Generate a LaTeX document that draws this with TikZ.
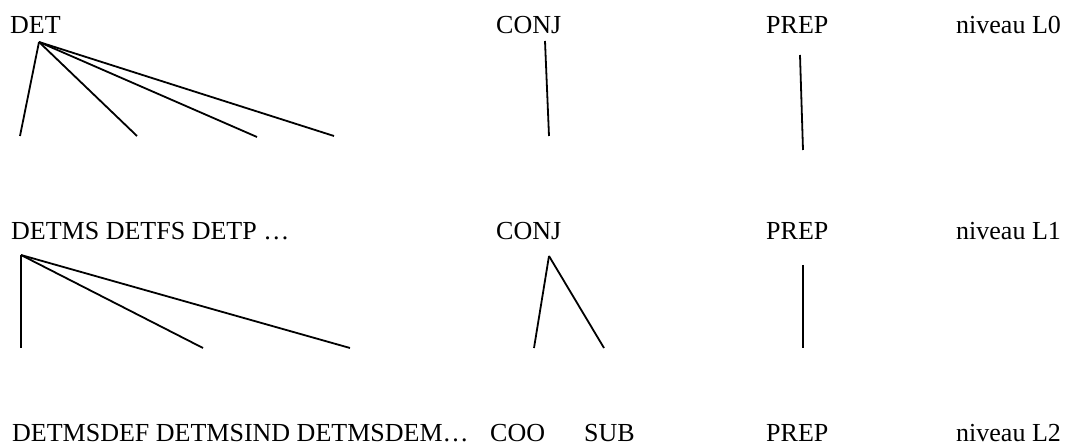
\documentclass[tikz,border=0pt]{standalone}
\usepackage{fontspec}
\setmainfont{Liberation Serif}
\begin{document}
\begin{tikzpicture}[x=1pt,y=-1pt,
  lbl/.style={anchor=base west, inner sep=0pt, font=\fontsize{26}{30}\selectfont},
  branch/.style={line width=1.8pt, line cap=butt}]
\useasboundingbox (0,0) rectangle (1066,446);
% level L0
\node[lbl] (det0)  at (10,34)  {DET};
\node[lbl] (conj0) at (496,34) {CONJ};
\node[lbl] (prep0) at (766,34) {PREP};
\node[lbl] (niv0)  at (956,34) {niveau L0};
% level L1
\node[lbl] (det1)  at (11,240)  {DETMS DETFS DETP …};
\node[lbl] (conj1) at (496,240) {CONJ};
\node[lbl] (prep1) at (766,240) {PREP};
\node[lbl] (niv1)  at (956,240) {niveau L1};
% level L2
\node[lbl] (det2)  at (12,441)  {DETMSDEF DETMSIND DETMSDEM…};
\node[lbl] (coo2)  at (490,441) {COO};
\node[lbl] (sub2)  at (584,441) {SUB};
\node[lbl] (prep2) at (766,441) {PREP};
\node[lbl] (niv2)  at (956,441) {niveau L2};
% coordinates, L0 -> L1
\coordinate (r0d) at (39,42);
\coordinate (l0a) at (20,136);
\coordinate (l0b) at (137,136);
\coordinate (l0c) at (257,137);
\coordinate (l0d) at (334,136);
\coordinate (r0c) at (545,41);
\coordinate (l0e) at (549,136);
\coordinate (r0p) at (800,55);
\coordinate (l0f) at (803,150);
% coordinates, L1 -> L2
\coordinate (r1d) at (21,255);
\coordinate (l1a) at (21,348);
\coordinate (l1b) at (203,348);
\coordinate (l1c) at (350,348);
\coordinate (r1c) at (549,256);
\coordinate (l1d) at (534,348);
\coordinate (l1e) at (604,348);
\coordinate (r1p) at (803,265);
\coordinate (l1f) at (803,348);
% branches
\draw[branch] (r0d) -- (l0a);
\draw[branch] (r0d) -- (l0b);
\draw[branch] (r0d) -- (l0c);
\draw[branch] (r0d) -- (l0d);
\draw[branch] (r0c) -- (l0e);
\draw[branch] (r0p) -- (l0f);
\draw[branch] (r1d) -- (l1a);
\draw[branch] (r1d) -- (l1b);
\draw[branch] (r1d) -- (l1c);
\draw[branch] (r1c) -- (l1d);
\draw[branch] (r1c) -- (l1e);
\draw[branch] (r1p) -- (l1f);
\end{tikzpicture}
\end{document}
